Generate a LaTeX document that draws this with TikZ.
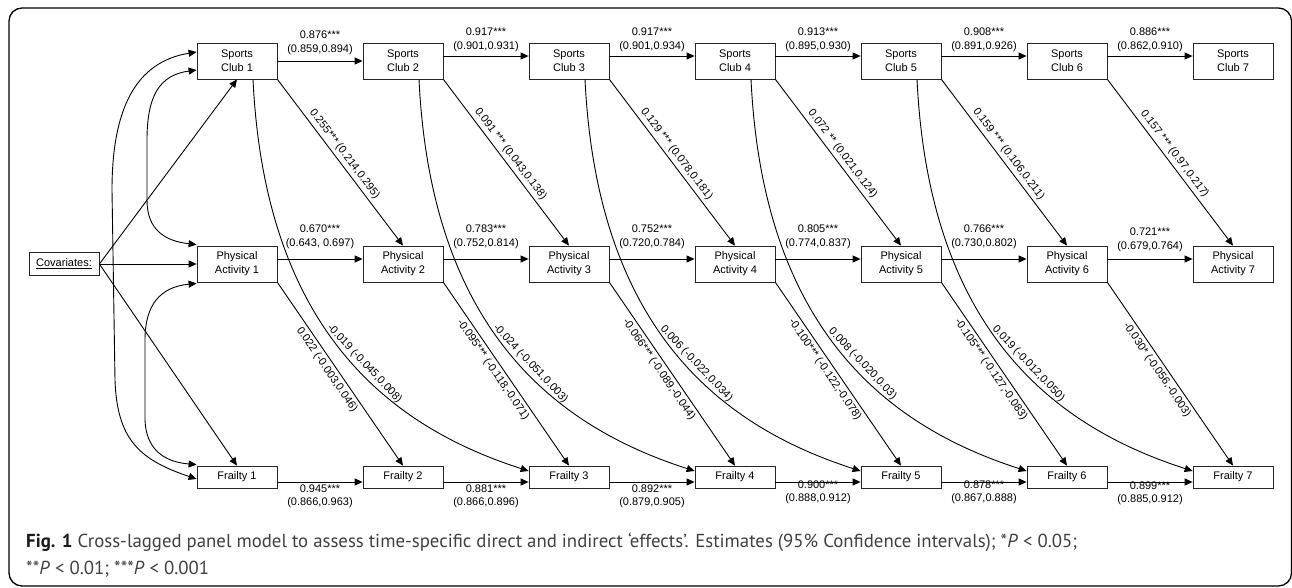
\documentclass[tikz,border=0pt]{standalone}
\usepackage{fontspec}
\setmainfont{Liberation Sans}
\newfontfamily\capfont{PT Sans}
\usetikzlibrary{arrows.meta,calc}
\begin{document}
\begin{tikzpicture}[x=1pt,y=-1pt,
  box/.style={draw=black!85, line width=0.8pt, minimum width=80pt, align=center,
    font=\fontsize{11}{14}\selectfont, inner sep=0pt},
  sbox/.style={box, minimum height=36pt},
  fbox/.style={box, minimum height=22pt},
  conn/.style={line width=0.9pt, -{Triangle[length=8pt,width=7pt]}},
  dconn/.style={line width=0.9pt, {Triangle[length=8pt,width=7pt]}-{Triangle[length=8pt,width=7pt]}},
  lab/.style={font=\fontsize{11}{13.5}\selectfont, align=center, inner sep=2pt},
  slab/.style={font=\fontsize{11}{13}\selectfont, sloped, inner sep=3pt},
  captext/.style={anchor=base west, inner sep=0pt, font=\capfont\fontsize{18.8}{20}\selectfont, text=black!75},
]
\useasboundingbox (0,0) rectangle (1292,588);
\draw[line width=1.3pt, rounded corners=13pt] (9,8) rectangle (1291.5,586);

% nodes
\foreach \i in {1,...,7} {
  \pgfmathsetmacro{\xx}{237+166*(\i-1)}
  \node[sbox] (sc\i) at (\xx,61) {Sports\\Club \i};
  \node[sbox] (pa\i) at (\xx,264) {Physical\\Activity \i};
  \node[fbox] (f\i) at (\xx,477) {Frailty \i};
}
\node[draw=black!85, line width=0.8pt, minimum width=70pt, minimum height=23pt, inner sep=0pt,
  font=\fontsize{11}{13}\selectfont] (cov) at (64,264) {\underline{Covariates:}};

% covariates
\draw[conn] (cov.east) -- (sc1.south);
\draw[conn] (cov.east) -- (pa1.west);
\draw[conn] (cov.east) -- (f1.north);
\draw[dconn] ([yshift=9pt]sc1.west) .. controls (135,62) and (112,110) .. (112,190)
  -- (115,380) .. controls (117,440) and (140,460) .. ([yshift=-2pt]f1.west);
\draw[dconn] ([yshift=-9pt]sc1.west) .. controls (160,75) and (147,95) .. (147,140)
  -- (147,200) .. controls (147,230) and (165,241) .. ([yshift=1pt]pa1.north west);
\draw[dconn] ([yshift=-1pt]pa1.south west) .. controls (160,287) and (145,305) .. (145,340)
  -- (145,420) .. controls (146,450) and (165,462) .. ([yshift=1pt]f1.north west);

% sports club chain
\draw[conn] (sc1.east) -- node[lab, above, yshift=4pt] {0.876***\\(0.859,0.894)} (sc2.west);
\draw[conn] ([yshift=5pt]sc2.east) -- node[lab, above, yshift=2pt] {0.917***\\(0.901,0.931)} ([yshift=5pt]sc3.west);
\draw[conn] ([yshift=5pt]sc3.east) -- node[lab, above, yshift=2pt] {0.917***\\(0.901,0.934)} ([yshift=5pt]sc4.west);
\draw[conn] ([yshift=5pt]sc4.east) -- node[lab, above, yshift=2pt] {0.913***\\(0.895,0.930)} ([yshift=5pt]sc5.west);
\draw[conn] ([yshift=5pt]sc5.east) -- node[lab, above, yshift=2pt] {0.908***\\(0.891,0.926)} ([yshift=5pt]sc6.west);
\draw[conn] ([yshift=5pt]sc6.east) -- node[lab, above, yshift=2pt] {0.886***\\(0.862,0.910)} ([yshift=5pt]sc7.west);

% physical activity chain
\draw[conn] ([yshift=5pt]pa1.east) -- node[lab, above, yshift=8pt] {0.670***\\(0.643, 0.697)} ([yshift=5pt]pa2.west);
\draw[conn] ([yshift=5pt]pa2.east) -- node[lab, above, yshift=8pt] {0.783***\\(0.752,0.814)} ([yshift=5pt]pa3.west);
\draw[conn] ([yshift=5pt]pa3.east) -- node[lab, above, yshift=8pt] {0.752***\\(0.720,0.784)} ([yshift=5pt]pa4.west);
\draw[conn] ([yshift=5pt]pa4.east) -- node[lab, above, yshift=8pt] {0.805***\\(0.774,0.837)} ([yshift=5pt]pa5.west);
\draw[conn] ([yshift=5pt]pa5.east) -- node[lab, above, yshift=8pt] {0.766***\\(0.730,0.802)} ([yshift=5pt]pa6.west);
\draw[conn] ([yshift=5pt]pa6.east) -- node[lab, above, yshift=5pt] {0.721***\\(0.679,0.764)} ([yshift=5pt]pa7.west);

% frailty chain
\draw[conn] ([yshift=-5pt]f1.east) -- node[lab, below] {0.945***\\(0.866,0.963)} ([yshift=-5pt]f2.west);
\draw[conn] ([yshift=-5pt]f2.east) -- node[lab, below] {0.881***\\(0.866,0.896)} ([yshift=-5pt]f3.west);
\draw[conn] ([yshift=-5pt]f3.east) -- node[lab, below] {0.892***\\(0.879,0.905)} ([yshift=-5pt]f4.west);
\draw[conn] ([yshift=-5pt]f4.east) -- node[lab, below, yshift=4pt] {0.900***\\(0.888,0.912)} ([yshift=-5pt]f5.west);
\draw[conn] ([yshift=-5pt]f5.east) -- node[lab, below, yshift=4pt] {0.878***\\(0.867,0.888)} ([yshift=-5pt]f6.west);
\draw[conn] ([yshift=-5pt]f6.east) -- node[lab, below, yshift=3pt] {0.899***\\(0.885,0.912)} ([yshift=-5pt]f7.west);

% sports club -> physical activity
\draw[conn] (sc1.south east) -- node[slab, above, pos=0.48] {0.255*** (0.214,0.295)} (pa2.north);
\draw[conn] (sc2.south east) -- node[slab, above, pos=0.48] {0.091 *** (0.043,0.138)} (pa3.north);
\draw[conn] (sc3.south east) -- node[slab, above, pos=0.48] {0.129 *** (0.078,0.181)} (pa4.north);
\draw[conn] (sc4.south east) -- node[slab, above, pos=0.48] {0.072 ** (0.021,0.124)} (pa5.north);
\draw[conn] (sc5.south east) -- node[slab, above, pos=0.48] {0.159 *** (0.106,0.211)} (pa6.north);
\draw[conn] (sc6.south east) -- node[slab, above, pos=0.48] {0.157 *** (0.97,0.217)} (pa7.north);

% physical activity -> frailty
\draw[conn] (pa1.south east) -- node[slab, below, pos=0.45] {0.022 (-0.003,0.046)} (f2.north);
\draw[conn] (pa2.south east) -- node[slab, below, pos=0.45] {-0.095*** (-0.118,-0.071)} (f3.north);
\draw[conn] (pa3.south east) -- node[slab, below, pos=0.45] {-0.066*** (-0.089,-0.044)} (f4.north);
\draw[conn] (pa4.south east) -- node[slab, below, pos=0.45] {-0.100*** (-0.122,-0.078)} (f5.north);
\draw[conn] (pa5.south east) -- node[slab, below, pos=0.45] {-0.105*** (-0.127,-0.083)} (f6.north);
\draw[conn] (pa6.south east) -- node[slab, below, pos=0.45] {-0.030* (-0.056,-0.003)} (f7.north);

% sports club -> frailty (two waves later)
\draw[conn] ([xshift=16pt]sc1.south) .. controls +(12,250) and +(-140,-45) .. node[slab, above, pos=0.55] {-0.019 (-0.045,0.008)} ([yshift=6pt]f3.west);
\draw[conn] ([xshift=16pt]sc2.south) .. controls +(12,250) and +(-140,-45) .. node[slab, above, pos=0.55] {-0.024 (-0.051,0.003)} ([yshift=6pt]f4.west);
\draw[conn] ([xshift=16pt]sc3.south) .. controls +(12,250) and +(-140,-45) .. node[slab, above, pos=0.55] {0.006 (-0.022,0.034)} ([yshift=6pt]f5.west);
\draw[conn] ([xshift=16pt]sc4.south) .. controls +(12,250) and +(-140,-45) .. node[slab, above, pos=0.55] {0.008 (-0.020,0.03)} ([yshift=6pt]f6.west);
\draw[conn] ([xshift=16pt]sc5.south) .. controls +(12,250) and +(-140,-45) .. node[slab, above, pos=0.55] {0.019 (-0.012,0.050)} ([yshift=6pt]f7.west);

% caption
\node[captext] (cap1) at (26,547)
  {\textcolor{black!90}{\textbf{Fig. 1}} Cross-lagged panel model to assess time-specific direct and indirect ‘effects’. Estimates (95\% Confidence intervals); *\textit{P} < 0.05;};
\node[captext] (cap2) at (26,574)
  {**\textit{P} < 0.01; ***\textit{P} < 0.001};
\end{tikzpicture}
\end{document}
